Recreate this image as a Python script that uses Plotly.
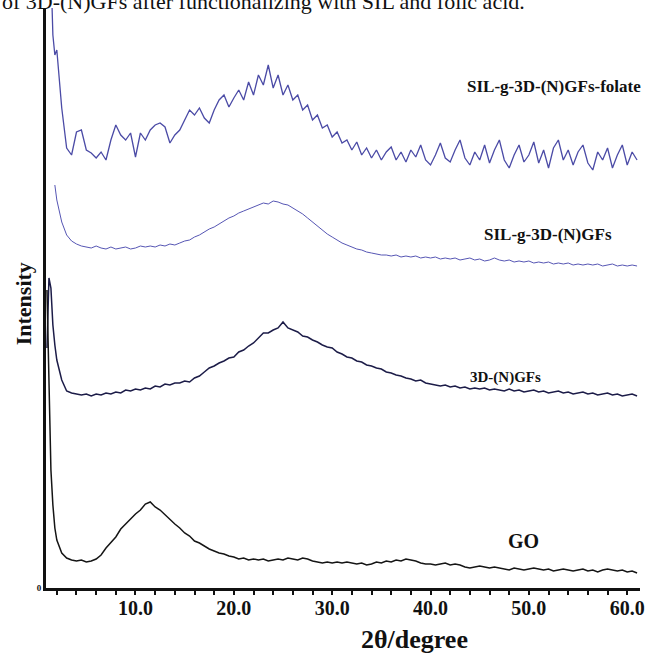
import plotly.graph_objects as go

# 2-theta scan positions (degrees)
X_DEG = [1.0, 1.2, 1.4, 1.6, 1.8, 2.0, 2.5, 3.0, 3.5, 4.0, 4.5, 5.0, 5.5, 6.0, 6.5, 7.0, 7.5, 8.0, 8.5, 9.0,
         9.5, 10.0, 10.5, 11.0, 11.5, 12.0, 12.5, 13.0, 13.5, 14.0, 14.5, 15.0, 15.5, 16.0, 16.5, 17.0, 17.5,
         18.0, 18.5, 19.0, 19.5, 20.0, 20.5, 21.0, 21.5, 22.0, 22.5, 23.0, 23.5, 24.0, 24.5, 25.0, 25.5, 26.0,
         26.5, 27.0, 27.5, 28.0, 28.5, 29.0, 29.5, 30.0, 30.5, 31.0, 31.5, 32.0, 32.5, 33.0, 33.5, 34.0, 34.5,
         35.0, 35.5, 36.0, 36.5, 37.0, 37.5, 38.0, 38.5, 39.0, 39.5, 40.0, 40.5, 41.0, 41.5, 42.0, 42.5, 43.0,
         43.5, 44.0, 44.5, 45.0, 45.5, 46.0, 46.5, 47.0, 47.5, 48.0, 48.5, 49.0, 49.5, 50.0, 50.5, 51.0, 51.5,
         52.0, 52.5, 53.0, 53.5, 54.0, 54.5, 55.0, 55.5, 56.0, 56.5, 57.0, 57.5, 58.0, 58.5, 59.0, 59.5, 60.0,
         60.5, 61.0]

# intensities (arbitrary units, stacked as in the figure)
FOLATE = [None, None, 620, 553, 533, 538, 480, 440, 433, 456, 458, 438, 435, 430, 436, 428, 448, 463, 453, 448,
          455, 431, 455, 448, 458, 463, 465, 461, 445, 453, 458, 468, 478, 473, 480, 470, 465,
          478, 488, 493, 481, 490, 498, 488, 506, 493, 513, 503, 523, 500, 513, 493, 503, 488,
          493, 478, 483, 468, 473, 460, 463, 451, 456, 445, 448, 438, 446, 433, 440, 430, 438,
          428, 436, 441, 428, 436, 426, 438, 431, 443, 428, 423, 433, 445, 430, 426, 438, 448,
          430, 423, 436, 428, 443, 425, 438, 448, 428, 420, 433, 443, 426, 433, 446, 425, 438,
          420, 440, 448, 428, 438, 423, 436, 443, 425, 418, 436, 428, 440, 420, 433, 443, 423,
          436, 428]

SIL = [None, None, None, None, 403, 388, 366, 353, 347, 344, 342, 341, 340, 342, 340, 339, 341, 339, 340, 341,
       339, 340, 342, 341, 342, 341, 343, 342, 344, 343, 345, 347, 348, 351, 353, 356, 359,
       361, 364, 367, 370, 372, 375, 377, 379, 381, 383, 385, 384, 387, 386, 384, 383, 380,
       377, 374, 370, 366, 362, 358, 354, 351, 348, 345, 343, 341, 339, 338, 336, 335, 334,
       333, 333, 332, 333, 331, 332, 331, 332, 330, 331, 330, 331, 329, 330, 329, 330, 328,
       329, 330, 328, 329, 327, 328, 330, 328, 327, 328, 326, 327, 326, 327, 325, 326, 325,
       326, 324, 325, 324, 325, 323, 324, 323, 324, 323, 324, 322, 323, 324, 322, 323, 322,
       323, 322]

NGF = [240, 310, 300, 263, 243, 228, 208, 197, 195, 194, 193, 194, 192, 194, 193, 195, 194, 196, 195, 198,
       197, 199, 198, 200, 199, 202, 201, 204, 203, 205, 205, 207, 206, 210, 212, 216, 220,
       222, 225, 227, 230, 231, 236, 238, 242, 245, 250, 255, 255, 258, 260, 266, 260, 258,
       256, 252, 251, 248, 246, 243, 241, 240, 236, 234, 231, 230, 227, 226, 223, 222, 220,
       219, 216, 215, 213, 212, 210, 209, 207, 208, 205, 204, 203, 202, 203, 201, 202, 200,
       201, 199, 200, 199, 200, 198, 199, 198, 197, 199, 197, 198, 196, 197, 198, 196, 197,
       195, 196, 197, 195, 196, 194, 195, 196, 194, 195, 193, 194, 195, 193, 194, 192, 193,
       194, 192]

GO = [298, 188, 118, 83, 60, 48, 35, 30, 28, 27, 28, 26, 27, 29, 33, 40, 45, 51, 59, 64,
      70, 74, 78, 84, 86, 81, 78, 73, 69, 64, 60, 55, 52, 47, 45, 42, 39,
      37, 35, 34, 32, 31, 29, 30, 28, 29, 28, 29, 27, 28, 29, 28, 30, 29,
      28, 30, 29, 27, 26, 25, 26, 25, 26, 25, 26, 25, 24, 25, 23, 24, 26,
      25, 27, 26, 28, 27, 29, 28, 27, 25, 24, 24, 23, 24, 25, 23, 24, 23,
      21, 20, 21, 22, 21, 20, 21, 20, 19, 18, 20, 19, 18, 19, 20, 19, 18,
      19, 17, 18, 19, 18, 17, 18, 19, 17, 18, 16, 18, 19, 18, 17, 18, 16,
      17, 15]

SERIES = [
    ("SIL-g-3D-(N)GFs-folate", FOLATE, "#4b4ba6", 1.3),
    ("SIL-g-3D-(N)GFs", SIL, "#5656b4", 1.0),
    ("3D-(N)GFs", NGF, "#1c1c48", 1.5),
    ("GO", GO, "#151515", 1.5),
]

LABELS = ["SIL-g-3D-(N)GFs-folate", "SIL-g-3D-(N)GFs", "3D-(N)GFs", "GO"]
LABEL_X = [52.6, 51.9, 47.6, 49.5]
LABEL_Y = [502, 354, 211, 47]
LABEL_SIZE = [17, 17, 15, 20]

MAJOR_TICKS = [10, 20, 30, 40, 50, 60]
MAJOR_TEXT = ["10.0", "20.0", "30.0", "40.0", "50.0", "60.0"]

CAPTION = "of 3D-(N)GFs after functionalizing with SIL and folic acid."

SERIF = "Liberation Serif, Times New Roman, serif"

fig = go.Figure()
for name, vals, color, w in SERIES:
    fig.add_trace(go.Scatter(x=X_DEG, y=vals, mode="lines", name=name,
                             line=dict(color=color, width=w), connectgaps=False))

for t, lx, ly, fs in zip(LABELS, LABEL_X, LABEL_Y, LABEL_SIZE):
    fig.add_annotation(x=lx, y=ly, text="<b>" + t + "</b>", showarrow=False,
                       font=dict(family=SERIF, size=fs, color="#111"))

fig.add_annotation(xref="paper", yref="paper", x=0.62, y=0, yanchor="top", yshift=-35,
                   text="<b>2θ/degree</b>", showarrow=False,
                   font=dict(family=SERIF, size=26, color="#111"))
fig.add_annotation(xref="paper", yref="paper", x=0, y=0.49, xanchor="right", xshift=-8,
                   text="<b>Intensity</b>", textangle=-90, showarrow=False,
                   font=dict(family=SERIF, size=22, color="#111"))
fig.add_annotation(xref="paper", yref="paper", x=0, xanchor="left", xshift=-46, y=1,
                   yanchor="bottom", yshift=-8, text=CAPTION, showarrow=False,
                   font=dict(family=SERIF, size=22, color="#111"))

fig.update_layout(
    width=645, height=656,
    margin=dict(l=46, r=0, t=8, b=68),
    paper_bgcolor="white", plot_bgcolor="white",
    showlegend=False,
    xaxis=dict(range=[0.9, 61.3], tickvals=MAJOR_TICKS,
               ticktext=["<b>" + s + "</b>" for s in MAJOR_TEXT],
               ticks="outside", ticklen=4, tickwidth=1.5, tickcolor="#111",
               ticklabeloverflow="allow", ticklabelstandoff=-4,
               minor=dict(dtick=2, tick0=0, ticks="outside", ticklen=4, tickwidth=1.5, tickcolor="#111"),
               showline=True, linecolor="#111", linewidth=2.5, showgrid=False, zeroline=False,
               tickfont=dict(family=SERIF, size=20, color="#111")),
    yaxis=dict(range=[0, 580], tickvals=[0], ticktext=["<b>0</b>"], ticks="",
               showline=True, linecolor="#111", linewidth=3, showgrid=False, zeroline=False,
               tickfont=dict(family=SERIF, size=9, color="#111")),
)

fig.write_html("out.html")
